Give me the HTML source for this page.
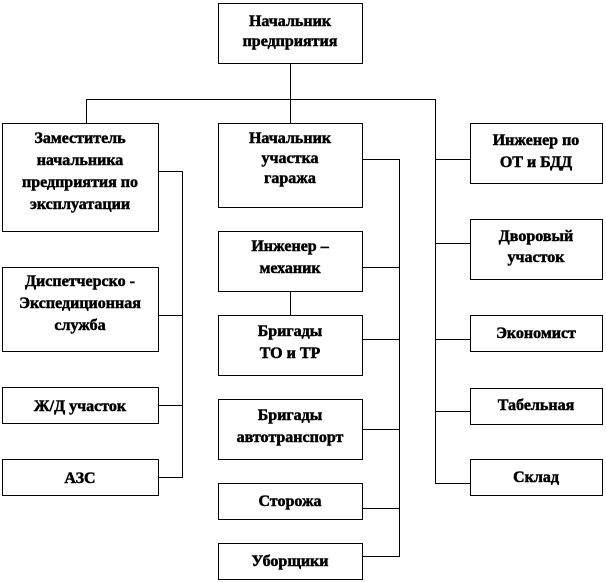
<!DOCTYPE html>
<html><head><meta charset="utf-8"><style>
html,body{margin:0;padding:0;background:#fff;}
svg{display:block}
svg text{font-family:'Liberation Serif','DejaVu Serif',serif;font-weight:bold;font-size:16px;fill:#000;text-anchor:middle;stroke:#000;stroke-width:0.5px}
</style></head><body>
<svg width="606" height="582" viewBox="0 0 606 582" xmlns="http://www.w3.org/2000/svg" font-family="Liberation Serif, serif">
<g fill="#fff" stroke="#000" stroke-width="1">
<rect x="218.5" y="3.5" width="144" height="60"/>
<rect x="2.5" y="123.5" width="156" height="108"/>
<rect x="2.5" y="267.5" width="156" height="84"/>
<rect x="2.5" y="387.5" width="156" height="36"/>
<rect x="2.5" y="459.5" width="156" height="36"/>
<rect x="218.5" y="123.5" width="144" height="84"/>
<rect x="218.5" y="231.5" width="144" height="60"/>
<rect x="218.5" y="315.5" width="144" height="60"/>
<rect x="218.5" y="399.5" width="144" height="60"/>
<rect x="218.5" y="483.5" width="144" height="36"/>
<rect x="218.5" y="543.5" width="144" height="36"/>
<rect x="470.5" y="123.5" width="132" height="60"/>
<rect x="470.5" y="219.5" width="132" height="60"/>
<rect x="470.5" y="315.5" width="132" height="36"/>
<rect x="470.5" y="388.5" width="132" height="36"/>
<rect x="470.5" y="459.5" width="132" height="36"/>
</g>
<g fill="none" stroke="#000" stroke-width="1">
<path d="M290.5 63.5V123.5M86.5 123.5V99.5H435.5V483.5H470.5"/>
<path d="M435.5 159.5H470.5M435.5 243.5H470.5M435.5 339.5H470.5M435.5 411.5H470.5"/>
<path d="M158.5 171.5H182.5V477.5H158.5M158.5 315.5H182.5M158.5 405.5H182.5"/>
<path d="M362.5 159.5H399.5V556.5H362.5M362.5 267.5H399.5M362.5 339.5H399.5M362.5 429.5H399.5M362.5 508.5H399.5"/>
<path d="M290.5 291.5V315.5"/>
</g>
<text x="290" y="26">Начальник</text><text x="290" y="46">предприятия</text>
<text x="80" y="143">Заместитель</text><text x="80" y="165">начальника</text><text x="80" y="187">предприятия по</text><text x="80" y="209">эксплуатации</text>
<text x="80" y="286">Диспетчерско -</text><text x="80" y="308">Экспедиционная</text><text x="80" y="330">служба</text>
<text x="80" y="411">Ж/Д участок</text>
<text x="80" y="483">АЗС</text>
<text x="290" y="143">Начальник</text><text x="290" y="163">участка</text><text x="290" y="183">гаража</text>
<text x="290" y="251">Инженер –</text><text x="290" y="273">механик</text>
<text x="290" y="336">Бригады</text><text x="290" y="358">ТО и ТР</text>
<text x="290" y="420">Бригады</text><text x="290" y="442">автотранспорт</text>
<text x="290" y="506">Сторожа</text>
<text x="290" y="566">Уборщики</text>
<text x="536" y="145">Инженер по</text><text x="536" y="167">ОТ и БДД</text>
<text x="536" y="241">Дворовый</text><text x="536" y="262">участок</text>
<text x="536" y="338">Экономист</text>
<text x="536" y="410">Табельная</text>
<text x="536" y="482">Склад</text>
</svg>
</body></html>
